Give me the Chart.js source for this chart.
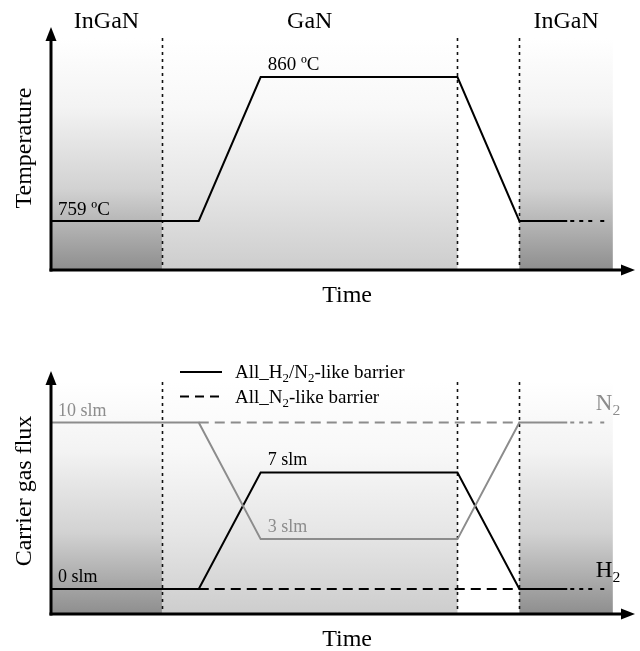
<!DOCTYPE html>
<html>
<head>
<meta charset="utf-8">
<script src="https://cdn.jsdelivr.net/npm/chart.js@4"></script>
<style>
  body { margin: 0; background: #fff; }
  #wrap { position: relative; width: 640px; height: 651px; }
  #top { position: absolute; left: 0; top: 0; }
  #bottom { position: absolute; left: 0; top: 325px; }
</style>
</head>
<body>
<div id="wrap">
  <div id="top" style="width:640px;height:325px"><canvas id="chartTemp"></canvas></div>
  <div id="bottom" style="width:640px;height:326px"><canvas id="chartFlux"></canvas></div>
</div>
<script>
// esquema de crecimiento: temperatura y flujo de gas portador vs tiempo
const regionEdges = [0, 19.0, 69.6, 80.2, 96.2];
const regionNames = ["InGaN", "GaN", "", "InGaN"];

const stepTime = [0, 25.3, 35.9, 69.6, 80.2, 88.4];
const tailTime = [88.4, 95.4];
const barrierTime = [25.3, 80.2];

const tempValues = [759, 759, 860, 860, 759, 759];
const tempTail = [759, 759];

const h2Solid = [0, 0, 7, 7, 0, 0];
const n2Solid = [10, 10, 3, 3, 10, 10];
const h2Barrier = [0, 0];
const n2Barrier = [10, 10];
const h2Tail = [0, 0];
const n2Tail = [10, 10];

const SERIF = '"Liberation Serif", "Times New Roman", serif';
const GREY = "#8c8c8c";

function pts(xs, ys) {
  return xs.map((x, i) => ({ x: x, y: ys[i] }));
}

function lineSet(xs, ys, color, dash) {
  return {
    data: pts(xs, ys),
    borderColor: color,
    borderWidth: 2,
    borderDash: dash || [],
    pointRadius: 0,
    tension: 0,
    fill: false
  };
}

// texto con subindices: partes [texto, esSub]
function richText(ctx, parts, x, y, size, color) {
  ctx.fillStyle = color;
  ctx.textBaseline = "alphabetic";
  ctx.textAlign = "left";
  let cx = x;
  parts.forEach(p => {
    const sub = p[1];
    const fs = sub ? size * 0.68 : size;
    ctx.font = fs + "px " + SERIF;
    ctx.fillText(p[0], cx, sub ? y + size * 0.22 : y);
    cx += ctx.measureText(p[0]).width;
  });
}

function arrow(ctx, x1, y1, x2, y2) {
  const ang = Math.atan2(y2 - y1, x2 - x1);
  const len = 14, hw = 5.5;
  ctx.beginPath();
  ctx.moveTo(x1, y1);
  ctx.lineTo(x2 - Math.cos(ang) * len * 0.8, y2 - Math.sin(ang) * len * 0.8);
  ctx.lineWidth = 3;
  ctx.strokeStyle = "#000";
  ctx.setLineDash([]);
  ctx.stroke();
  ctx.beginPath();
  ctx.moveTo(x2, y2);
  ctx.lineTo(x2 - Math.cos(ang) * len - Math.sin(ang) * hw, y2 - Math.sin(ang) * len + Math.cos(ang) * hw);
  ctx.lineTo(x2 - Math.cos(ang) * len + Math.sin(ang) * hw, y2 - Math.sin(ang) * len - Math.cos(ang) * hw);
  ctx.closePath();
  ctx.fillStyle = "#000";
  ctx.fill();
}

const schemePlugin = {
  id: "scheme",
  beforeDatasetsDraw(chart, args, opts) {
    const ctx = chart.ctx;
    const a = chart.chartArea;
    const xs = chart.scales.x;
    const top = a.top + 11;
    ctx.save();
    // fondos degradados
    const shades = [
      ["#ffffff", "#f3f3f3", "#d2d2d2", "#8e8e8e"],
      ["#ffffff", "#f8f8f8", "#e6e6e6", "#cdcdcd"],
      null,
      ["#ffffff", "#f3f3f3", "#d2d2d2", "#8e8e8e"]
    ];
    for (let i = 0; i < regionEdges.length - 1; i++) {
      if (!shades[i]) continue;
      const x0 = xs.getPixelForValue(regionEdges[i]);
      const x1 = xs.getPixelForValue(regionEdges[i + 1]);
      const g = ctx.createLinearGradient(0, top, 0, a.bottom);
      g.addColorStop(0, shades[i][0]);
      g.addColorStop(0.3, shades[i][1]);
      g.addColorStop(0.65, shades[i][2]);
      g.addColorStop(1, shades[i][3]);
      ctx.fillStyle = g;
      ctx.fillRect(x0, top, x1 - x0, a.bottom - top);
    }
    // lineas punteadas verticales
    ctx.strokeStyle = "#111";
    ctx.lineWidth = 1.6;
    ctx.setLineDash([3, 4]);
    for (let i = 1; i < regionEdges.length - 1; i++) {
      const x = Math.round(xs.getPixelForValue(regionEdges[i])) + 0.5;
      ctx.beginPath();
      ctx.moveTo(x, top);
      ctx.lineTo(x, a.bottom);
      ctx.stroke();
    }
    ctx.restore();
  },
  afterDatasetsDraw(chart, args, opts) {
    const ctx = chart.ctx;
    const a = chart.chartArea;
    const xs = chart.scales.x;
    const ys = chart.scales.y;
    ctx.save();
    arrow(ctx, a.left, a.bottom + 1.5, a.left, a.top);
    arrow(ctx, a.left - 1.5, a.bottom, a.right, a.bottom);

    // titulos de ejes
    ctx.fillStyle = "#000";
    ctx.font = "24px " + SERIF;
    ctx.textAlign = "center";
    ctx.textBaseline = "alphabetic";
    ctx.fillText("Time", xs.getPixelForValue(50.7), a.bottom + opts.timeDy);
    ctx.save();
    ctx.translate(31, opts.yTitleY);
    ctx.rotate(-Math.PI / 2);
    ctx.fillText(opts.yTitle, 0, 0);
    ctx.restore();

    (opts.labels || []).forEach(l => {
      const px = xs.getPixelForValue(l.x) + (l.dx || 0);
      const py = ys.getPixelForValue(l.y) + l.dy;
      richText(ctx, l.parts, px, py, l.size, l.color);
    });
    if (opts.drawLegend) opts.drawLegend(ctx, chart);
    ctx.restore();
  }
};

const tempChart = new Chart(document.getElementById("chartTemp"), {
  type: "line",
  data: {
    datasets: [
      lineSet(stepTime, tempValues, "#000"),
      lineSet(tailTime, tempTail, "#000", [0, 3, 4, 5, 4, 5, 4, 5])
    ]
  },
  options: {
    responsive: true,
    maintainAspectRatio: false,
    animation: false,
    layout: { padding: { left: 51, right: 5, top: 27, bottom: 55 } },
    scales: {
      x: { type: "linear", display: false, min: 0, max: 100 },
      y: { type: "linear", display: false, min: 724.6, max: 895.1 }
    },
    plugins: {
      legend: { display: false },
      tooltip: { enabled: false },
      scheme: {
        timeDy: 32,
        yTitle: "Temperature",
        yTitleY: 148,
        labels: [
          { parts: [["759 ºC", false]], x: 0, y: 759, dx: 7, dy: -6, size: 19, color: "#000" },
          { parts: [["860 ºC", false]], x: 35.9, y: 860, dx: 7, dy: -7, size: 19, color: "#000" }
        ],
        drawLegend(ctx, chart) {
          const xs = chart.scales.x;
          ctx.fillStyle = "#000";
          ctx.font = "24px " + SERIF;
          ctx.textAlign = "center";
          for (let i = 0; i < regionNames.length; i++) {
            if (!regionNames[i]) continue;
            const mid = (regionEdges[i] + regionEdges[i + 1]) / 2;
            ctx.fillText(regionNames[i], xs.getPixelForValue(mid), 28);
          }
        }
      }
    }
  },
  plugins: [schemePlugin]
});

const fluxChart = new Chart(document.getElementById("chartFlux"), {
  type: "line",
  data: {
    datasets: [
      lineSet(barrierTime, n2Barrier, GREY, [10, 6]),
      lineSet(barrierTime, h2Barrier, "#000", [10, 6]),
      lineSet(stepTime, n2Solid, GREY),
      lineSet(stepTime, h2Solid, "#000"),
      lineSet(tailTime, n2Tail, GREY, [0, 3, 4, 5, 4, 5, 4, 5]),
      lineSet(tailTime, h2Tail, "#000", [0, 3, 4, 5, 4, 5, 4, 5])
    ]
  },
  options: {
    responsive: true,
    maintainAspectRatio: false,
    animation: false,
    layout: { padding: { left: 51, right: 5, top: 46, bottom: 37 } },
    scales: {
      x: { type: "linear", display: false, min: 0, max: 100 },
      y: { type: "linear", display: false, min: -1.5, max: 13.1 }
    },
    plugins: {
      legend: { display: false },
      tooltip: { enabled: false },
      scheme: {
        timeDy: 32,
        yTitle: "Carrier gas flux",
        yTitleY: 166,
        labels: [
          { parts: [["10 slm", false]], x: 0, y: 10, dx: 7, dy: -7, size: 18, color: GREY },
          { parts: [["0 slm", false]], x: 0, y: 0, dx: 7, dy: -7, size: 18, color: "#000" },
          { parts: [["7 slm", false]], x: 35.9, y: 7, dx: 7, dy: -8, size: 18, color: "#000" },
          { parts: [["3 slm", false]], x: 35.9, y: 3, dx: 7, dy: -7, size: 18, color: GREY },
          { parts: [["N", false], ["2", true]], x: 93.3, y: 10, dx: 0, dy: -13, size: 23, color: GREY },
          { parts: [["H", false], ["2", true]], x: 93.3, y: 0, dx: 0, dy: -12, size: 23, color: "#000" }
        ],
        drawLegend(ctx, chart) {
          const rows = [
            { dash: [], parts: [["All_H", false], ["2", true], ["/N", false], ["2", true], ["-like barrier", false]], y: 47 },
            { dash: [9, 6], parts: [["All_N", false], ["2", true], ["-like barrier", false]], y: 71.5 }
          ];
          rows.forEach(r => {
            ctx.beginPath();
            ctx.setLineDash(r.dash);
            ctx.lineWidth = 2;
            ctx.strokeStyle = "#000";
            ctx.moveTo(180, r.y);
            ctx.lineTo(222, r.y);
            ctx.stroke();
            richText(ctx, r.parts, 235, r.y + 6, 19, "#000");
          });
          ctx.setLineDash([]);
        }
      }
    }
  },
  plugins: [schemePlugin]
});
</script>
</body>
</html>
